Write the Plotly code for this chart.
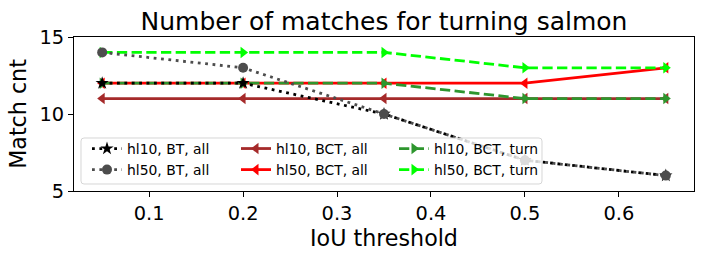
import plotly.graph_objects as go

iou = [0.05, 0.2, 0.35, 0.5, 0.65]
hl10_bt_all = [12, 12, 10, 7, 6]
hl50_bt_all = [14, 13, 10, 7, 6]
hl10_bct_all = [11, 11, 11, 11, 11]
hl50_bct_all = [12, 12, 12, 12, 13]
hl10_bct_turn = [12, 12, 12, 11, 11]
hl50_bct_turn = [14, 14, 14, 13, 13]

W, H = 703, 256
L, R, T, B = 74, 9, 37, 65
PW, PH = W - L - R, H - T - B


def px(x):
    return (x - L) / PW


def py(y):
    return (H - B - y) / PH


LW = 2.8
DOT = "2.8px,4.6px"
DASH = "10.3px,4.4px"
MS = 10

# (name, values, color, dash, symbol, legend, rank) in drawing order
series = [
    ("hl10, BCT, all", hl10_bct_all, "#a52a2a", "solid", "triangle-left", "legend2", 1),
    ("hl50, BCT, all", hl50_bct_all, "#ff0000", "solid", "triangle-left", "legend2", 2),
    ("hl10, BCT, turn", hl10_bct_turn, "#2e962e", DASH, "triangle-right", "legend3", 1),
    ("hl50, BCT, turn", hl50_bct_turn, "#00ff00", DASH, "triangle-right", "legend3", 2),
    ("hl10, BT, all", hl10_bt_all, "#000000", DOT, "star", "legend", 1),
    ("hl50, BT, all", hl50_bt_all, "#4d4d4d", DOT, "circle", "legend", 2),
]

fig = go.Figure()
for name, vals, color, dash, sym, leg, rank in series:
    fig.add_trace(go.Scatter(
        x=iou, y=vals, name=name, mode="lines+markers",
        line=dict(color=color, width=LW, dash=dash),
        marker=dict(symbol=sym, size=MS, color=color),
        legend=leg, legendrank=rank,
    ))

FONT = "DejaVu Sans"
legfont = dict(family=FONT, size=13.9, color="black")


def leg(xpix):
    return dict(x=px(xpix), y=py(133), xanchor="left", yanchor="top",
                orientation="v", bgcolor="rgba(0,0,0,0)", borderwidth=0,
                font=legfont, tracegroupgap=0, itemwidth=30)


# legend frame (rounded rectangle)
x0, x1 = px(81), px(542)
y0, y1 = py(184), py(138)
rx, ry = 3 / PW, 3 / PH
path = (f"M {x0+rx},{y0} L {x1-rx},{y0} Q {x1},{y0} {x1},{y0+ry} "
        f"L {x1},{y1-ry} Q {x1},{y1} {x1-rx},{y1} L {x0+rx},{y1} "
        f"Q {x0},{y1} {x0},{y1-ry} L {x0},{y0+ry} Q {x0},{y0} {x0+rx},{y0} Z")

fig.update_layout(
    width=W, height=H,
    margin=dict(l=L, r=R, t=T, b=B),
    paper_bgcolor="white", plot_bgcolor="white",
    font=dict(family=FONT, color="black"),
    title=dict(text="Number of matches for turning salmon",
               font=dict(family=FONT, size=25, color="black"),
               x=0.5, xref="paper", xanchor="center",
               y=1 - 21 / H, yref="container", yanchor="middle"),
    legend=leg(87), legend2=leg(236), legend3=leg(394),
    shapes=[dict(type="path", path=path, xref="paper", yref="paper",
                 line=dict(color="rgba(204,204,204,0.8)", width=1),
                 fillcolor="rgba(255,255,255,0.8)", layer="above")],
    showlegend=True,
)

axis_common = dict(
    showline=True, linecolor="black", linewidth=1.1, mirror=True,
    ticks="outside", ticklen=5, tickwidth=1.1, tickcolor="black",
    showgrid=False, zeroline=False, automargin=False,
    tickfont=dict(family=FONT, size=19.4, color="black"),
)
fig.update_xaxes(range=[0.02, 0.68], dtick=0.1, tick0=0, tickformat=".1f",
                 title=dict(text="IoU threshold", font=dict(family=FONT, size=22.2),
                            standoff=6),
                 **axis_common)
fig.update_yaxes(range=[5, 15], dtick=5, tick0=0,
                 title=dict(text="Match cnt", font=dict(family=FONT, size=22.2),
                            standoff=6),
                 **axis_common)

fig.write_html("out.html",
               config={"displayModeBar": False},
               post_script="document.body.style.margin='0';document.body.style.padding='0';")
